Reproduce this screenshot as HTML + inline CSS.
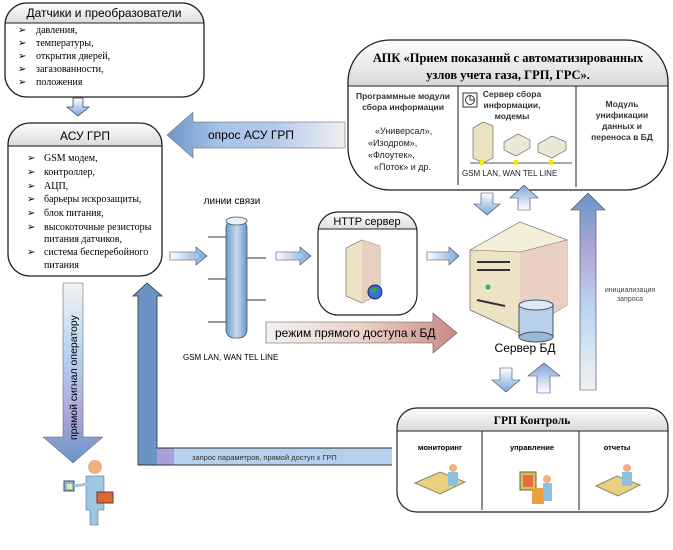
<!DOCTYPE html>
<html><head><meta charset="utf-8"><style>
body{margin:0;width:673px;height:550px;background:#fff;overflow:hidden;font-family:"Liberation Sans",sans-serif}
svg{position:absolute;left:0;top:0}
</style></head><body>
<svg width="673" height="550" viewBox="0 0 673 550" font-family="Liberation Sans, sans-serif">
<defs>
<linearGradient id="hd" x1="0" y1="0" x2="0" y2="1"><stop offset="0" stop-color="#fff"/><stop offset="1" stop-color="#d8d8d8"/></linearGradient>
<linearGradient id="bl" x1="0" y1="0" x2="1" y2="0"><stop offset="0" stop-color="#6e95c8"/><stop offset="0.3" stop-color="#a7c4e8"/><stop offset="0.6" stop-color="#b4c9ea"/><stop offset="1" stop-color="#f0f0f0"/></linearGradient>
<linearGradient id="blv" x1="0" y1="0" x2="0" y2="1"><stop offset="0" stop-color="#f2f2f2"/><stop offset="0.4" stop-color="#b6d3ef"/><stop offset="0.75" stop-color="#a9a4d8"/><stop offset="1" stop-color="#6a94c6"/></linearGradient>
<linearGradient id="blu" x1="0" y1="0" x2="0" y2="1"><stop offset="0" stop-color="#6a94c6"/><stop offset="0.3" stop-color="#b0a8d8"/><stop offset="0.6" stop-color="#bcd6f0"/><stop offset="1" stop-color="#f2f2f2"/></linearGradient>
<linearGradient id="sm" x1="0" y1="0" x2="1" y2="0"><stop offset="0" stop-color="#fff"/><stop offset="1" stop-color="#7aa6d6"/></linearGradient>
<linearGradient id="smd" x1="0" y1="0" x2="0" y2="1"><stop offset="0" stop-color="#fff"/><stop offset="1" stop-color="#7aa6d6"/></linearGradient>
<linearGradient id="smu" x1="0" y1="1" x2="0" y2="0"><stop offset="0" stop-color="#fff"/><stop offset="1" stop-color="#7aa6d6"/></linearGradient>
<linearGradient id="rd" x1="0" y1="0" x2="1" y2="0"><stop offset="0" stop-color="#f2f2f2"/><stop offset="0.5" stop-color="#ead2c8"/><stop offset="1" stop-color="#c98a86"/></linearGradient>
<linearGradient id="cyl" x1="0" y1="0" x2="1" y2="0"><stop offset="0" stop-color="#6a98c8"/><stop offset="0.5" stop-color="#c8dcf0"/><stop offset="1" stop-color="#6a98c8"/></linearGradient>
<linearGradient id="hl" x1="0" y1="0" x2="0" y2="1"><stop offset="0" stop-color="#f4f4f4"/><stop offset="0.5" stop-color="#b8d2ee"/><stop offset="1" stop-color="#b4d0ec"/></linearGradient>
</defs>

<!-- Датчики -->
<path d="M27 3 H182 A22 22 0 0 1 204 25 V23 H5 V25 A22 22 0 0 1 27 3Z" fill="url(#hd)"/>
<rect x="5" y="3" width="199" height="94" rx="22" fill="none" stroke="#222" stroke-width="1.3"/>
<line x1="5" y1="23" x2="204" y2="23" stroke="#222"/>
<text x="104" y="17" font-size="12" text-anchor="middle">Датчики и преобразователи</text>
<g font-size="10" font-family="Liberation Serif, serif">
<text x="18" y="33">➢</text><text x="36" y="33">давления,</text>
<text x="18" y="46">➢</text><text x="36" y="46">температуры,</text>
<text x="18" y="59">➢</text><text x="36" y="59">открытия дверей,</text>
<text x="18" y="72">➢</text><text x="36" y="72">загазованности,</text>
<text x="18" y="85">➢</text><text x="36" y="85">положения</text>
</g>
<path d="M73 98 H83 V107 H89 L78 116 L67 107 H73 Z" fill="url(#smd)" stroke="#446" stroke-width="0.8"/>

<!-- АСУ ГРП -->
<path d="M30 123 H140 A22 22 0 0 1 162 145 V147 H8 V145 A22 22 0 0 1 30 123Z" fill="url(#hd)"/>
<rect x="8" y="123" width="154" height="153" rx="22" fill="none" stroke="#222" stroke-width="1.3"/>
<line x1="8" y1="146" x2="162" y2="146" stroke="#222"/>
<text x="85" y="140" font-size="12" text-anchor="middle">АСУ  ГРП</text>
<g font-size="10" font-family="Liberation Serif, serif">
<text x="27" y="161">➢</text><text x="44" y="161">GSM модем,</text>
<text x="27" y="175">➢</text><text x="44" y="175">контроллер,</text>
<text x="27" y="189">➢</text><text x="44" y="189">АЦП,</text>
<text x="27" y="202">➢</text><text x="44" y="202">барьеры искрозащиты,</text>
<text x="27" y="216">➢</text><text x="44" y="216">блок питания,</text>
<text x="27" y="230">➢</text><text x="44" y="230">высокоточные резисторы</text>
<text x="44" y="242">питания датчиков,</text>
<text x="27" y="255">➢</text><text x="44" y="255">система бесперебойного</text>
<text x="44" y="268">питания</text>
</g>

<!-- опрос arrow -->
<path d="M345 122 H193 V112 L167 135 L193 158 V148 H345 Z" fill="url(#bl)" stroke="#556" stroke-width="0.5"/>
<text x="208" y="139" font-size="12">опрос АСУ ГРП</text>

<!-- АПК -->
<path d="M390 40 H626 A42 42 0 0 1 668 82 V86 H348 V82 A42 42 0 0 1 390 40Z" fill="url(#hd)"/>
<rect x="348" y="40" width="320" height="150" rx="42" fill="none" stroke="#222" stroke-width="1.3"/>
<line x1="348" y1="86" x2="668" y2="86" stroke="#222"/>
<line x1="458" y1="86" x2="458" y2="185" stroke="#222"/>
<line x1="576" y1="86" x2="576" y2="187" stroke="#222"/>
<text x="508" y="62" font-size="12.5" text-anchor="middle" font-family="Liberation Serif, serif" font-weight="bold">АПК «Прием показаний с автоматизированных</text>
<text x="508" y="79" font-size="12.5" text-anchor="middle" font-family="Liberation Serif, serif" font-weight="bold">узлов учета газа, ГРП, ГРС».</text>
<g font-size="8.5" font-weight="bold" fill="#333" text-anchor="middle">
<text x="403" y="99">Программные модули</text><text x="403" y="110">сбора информации</text>
<text x="512" y="97">Сервер сбора</text><text x="512" y="108">информации,</text><text x="512" y="119">модемы</text>
<text x="622" y="107">Модуль</text><text x="622" y="118">унификации</text><text x="622" y="129">данных и</text><text x="622" y="140">переноса в БД</text>
</g>
<g font-size="9" fill="#222">
<text x="375" y="134">«Универсал»,</text><text x="368" y="146">«Изодром»,</text><text x="368" y="158">«Флоутек»,</text><text x="374" y="170">«Поток» и др.</text>
<text x="462" y="176" font-size="8">GSM   LAN, WAN   TEL LINE</text>
</g>
<rect x="463" y="93" width="14" height="14" fill="#fff" stroke="#333"/><circle cx="470" cy="100" r="4.5" fill="none" stroke="#333"/><path d="M470 96V100H474" stroke="#333" fill="none"/>
<line x1="470" y1="163" x2="572" y2="163" stroke="#aaa" stroke-width="2"/>
<path d="M473 128 L483 122 L493 126 V158 L483 163 L473 158Z" fill="#e8e2c0" stroke="#555" stroke-width="0.6"/>
<path d="M504 142 L518 134 L530 140 V148 L516 156 L504 150Z" fill="#ece8d8" stroke="#555" stroke-width="0.6"/>
<path d="M538 144 L552 136 L566 142 V150 L552 158 L538 152Z" fill="#ece8d8" stroke="#555" stroke-width="0.6"/>
<rect x="480" y="160" width="4" height="5" fill="#ee0"/><rect x="514" y="160" width="4" height="5" fill="#ee0"/><rect x="549" y="160" width="4" height="5" fill="#ee0"/>

<!-- arrows АПК<->server -->
<path d="M481 193 H493 V204 H500 L487 215 L474 204 H481Z" fill="url(#smd)" stroke="#446" stroke-width="0.6"/>
<path d="M518 210 H530 V198 H538 L524 185 L510 198 H518Z" fill="url(#smu)" stroke="#446" stroke-width="0.6"/>
<path d="M580 390 H596 V210 H605 L588 193 L571 210 H580Z" fill="url(#blu)" stroke="#446" stroke-width="0.6"/>
<text x="630" y="292" font-size="7" text-anchor="middle" fill="#444">инициализация</text>
<text x="630" y="301" font-size="7" text-anchor="middle" fill="#444">запроса</text>

<!-- линии связи -->
<text x="232" y="204" font-size="10" text-anchor="middle">линии связи</text>
<g stroke="#333"><line x1="208" y1="237" x2="228" y2="237"/><line x1="208" y1="279" x2="228" y2="279"/><line x1="208" y1="322" x2="228" y2="322"/><line x1="246" y1="258" x2="266" y2="258"/><line x1="246" y1="300" x2="266" y2="300"/></g>
<rect x="226" y="220" width="21" height="118" rx="8" fill="url(#cyl)" stroke="#456" stroke-width="0.8"/>
<ellipse cx="236.5" cy="221" rx="10.5" ry="4" fill="#e8f0f8" stroke="#456" stroke-width="0.8"/>
<text x="183" y="360" font-size="8">GSM    LAN, WAN    TEL LINE</text>
<path d="M170 252 H196 V247 L207 256 L196 265 V260 H170Z" fill="url(#sm)" stroke="#446" stroke-width="0.6"/>
<path d="M276 252 H300 V247 L311 256 L300 265 V260 H276Z" fill="url(#sm)" stroke="#446" stroke-width="0.6"/>
<path d="M427 252 H449 V247 L459 256 L449 265 V260 H427Z" fill="url(#sm)" stroke="#446" stroke-width="0.6"/>

<!-- HTTP -->
<path d="M338 212 H397 A20 20 0 0 1 417 232 V229 H318 V232 A20 20 0 0 1 338 212Z" fill="url(#hd)"/>
<rect x="318" y="212" width="99" height="103" rx="20" fill="none" stroke="#222" stroke-width="1.2"/>
<line x1="318" y1="229" x2="417" y2="229" stroke="#222"/>
<text x="367" y="225" font-size="11" text-anchor="middle">HTTP сервер</text>
<path d="M346 248 L362 240 L380 246 V294 L362 303 L346 296Z" fill="#ebe3c4" stroke="#666" stroke-width="0.6"/>
<path d="M362 240 L380 246 V294 L362 303Z" fill="#e8cfc0"/>
<circle cx="375" cy="292" r="7" fill="#3a6fd8" stroke="#225"/><path d="M371 289 Q375 286 378 290 Q374 294 371 292Z" fill="#3a3"/>

<!-- режим arrow -->
<path d="M266 322 H433 V313 L457 333 L433 353 V343 H266Z" fill="url(#rd)" stroke="#555" stroke-width="0.6"/>
<text x="275" y="337" font-size="12">режим прямого доступа к БД</text>

<!-- Server БД -->
<path d="M470 250 L520 222 L567 240 V305 L520 333 L470 310Z" fill="#ebe3c4" stroke="#666" stroke-width="0.7"/>
<path d="M520 250 L567 240 V305 L520 333Z" fill="#ead0c2"/>
<path d="M470 250 L520 222 L567 240 L520 252Z" fill="#f4efd8" stroke="#666" stroke-width="0.5"/>
<g stroke="#333" stroke-width="2"><line x1="477" y1="262" x2="510" y2="262"/><line x1="477" y1="270" x2="510" y2="270"/><line x1="477" y1="300" x2="505" y2="306"/></g>
<circle cx="488" cy="287" r="2.5" fill="#3a8"/>
<rect x="519" y="305" width="34" height="32" fill="#b8d0e8" stroke="#456"/>
<ellipse cx="536" cy="305" rx="17" ry="5" fill="#dfeaf6" stroke="#456"/>
<ellipse cx="536" cy="337" rx="17" ry="5" fill="#9bb8d8" stroke="#456"/>
<text x="525" y="352" font-size="12" text-anchor="middle">Сервер БД</text>
<path d="M500 368 H512 V380 H520 L506 392 L492 380 H500Z" fill="url(#smd)" stroke="#446" stroke-width="0.6"/>
<path d="M537 393 H550 V376 H560 L544 363 L528 376 H537Z" fill="url(#smu)" stroke="#446" stroke-width="0.6"/>

<!-- ГРП Контроль -->
<path d="M417 408 H648 A20 20 0 0 1 668 428 V431 H397 V428 A20 20 0 0 1 417 408Z" fill="url(#hd)"/>
<rect x="397" y="408" width="271" height="104" rx="20" fill="none" stroke="#222" stroke-width="1.2"/>
<line x1="397" y1="431" x2="668" y2="431" stroke="#222"/>
<line x1="482" y1="431" x2="482" y2="510" stroke="#222"/>
<line x1="579" y1="431" x2="579" y2="510" stroke="#222"/>
<text x="532" y="424" font-size="11.5" text-anchor="middle" font-family="Liberation Serif, serif" font-weight="bold">ГРП Контроль</text>
<g font-size="7.5" font-weight="bold" text-anchor="middle"><text x="440" y="450">мониторинг</text><text x="532" y="450">управление</text><text x="617" y="450">отчеты</text></g>
<path d="M415 483 L440 472 L465 482 L440 494Z" fill="#e8d080" stroke="#886"/><circle cx="453" cy="468" r="4" fill="#f0b080"/><rect x="448" y="472" width="10" height="14" fill="#8cc0e0"/>
<rect x="520" y="472" width="16" height="18" fill="#d8c060" stroke="#664"/><rect x="523" y="475" width="10" height="12" fill="#e87040"/><rect x="532" y="488" width="12" height="16" fill="#e8a040"/><circle cx="547" cy="479" r="4" fill="#f0b080"/><rect x="543" y="483" width="9" height="18" fill="#8cc0e0"/>
<path d="M596 486 L617 476 L640 485 L618 496Z" fill="#e8d080" stroke="#886"/><circle cx="627" cy="468" r="4" fill="#f0b080"/><rect x="622" y="472" width="10" height="14" fill="#8cc0e0"/>

<!-- прямой сигнал оператору -->
<path d="M63 283 H83 V437 H103 L73 463 L43 437 H63Z" fill="url(#blv)" stroke="#556" stroke-width="0.5"/>
<text transform="translate(77,440) rotate(-90)" font-size="10.5">прямой сигнал оператору</text>
<!-- up arrow + bottom bar -->
<path d="M138 465 H392 V448 H157 V296 H162 L147 283 L133 296 H138Z" fill="url(#hl)"/>
<rect x="138" y="296" width="19" height="169" fill="#6a94c6"/>
<path d="M133 296 L147 283 L162 296Z" fill="#6a94c6"/>
<rect x="157" y="448" width="17" height="17" fill="#a8a0d8"/>
<path d="M157 448 H392 M138 465 H392" stroke="#333" stroke-width="1"/>
<path d="M138 465 V296 H133 L147 283 L162 296 H157 V448" fill="none" stroke="#333" stroke-width="0.8"/>
<text x="192" y="460" font-size="7.5" fill="#333">запрос параметров, прямой доступ к ГРП</text>

<!-- person -->
<circle cx="95" cy="467" r="7" fill="#f0b080"/>
<path d="M86 476 H104 V510 H98 V525 H90 V510 H86Z" fill="#9cc8e4" stroke="#557" stroke-width="0.5"/>
<rect x="64" y="481" width="10" height="10" fill="#8cb8e0" stroke="#446"/><rect x="67" y="484" width="5" height="5" fill="#ee9"/>
<line x1="74" y1="486" x2="88" y2="484" stroke="#9cc8e4" stroke-width="3"/>
<rect x="97" y="492" width="16" height="11" fill="#d86a30" stroke="#733"/>
</svg>
</body></html>
